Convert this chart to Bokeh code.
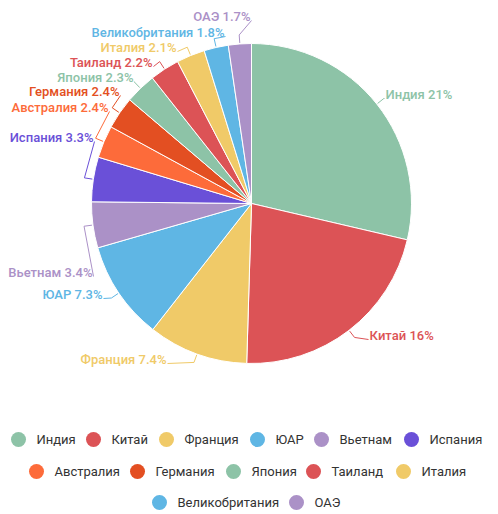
import math
from bokeh.plotting import figure
from bokeh.models import Range1d, ColumnDataSource
from bokeh.core.properties import value
from bokeh.embed import file_html
from bokeh.resources import INLINE

# ---- data ----
countries = ["Индия", "Китай", "Франция", "ЮАР", "Вьетнам", "Испания", "Австралия",
             "Германия", "Япония", "Таиланд", "Италия", "Великобритания", "ОАЭ"]
shares = [21, 16, 7.4, 7.3, 3.4, 3.3, 2.4, 2.4, 2.3, 2.2, 2.1, 1.8, 1.7]
share_labels = ["21%", "16%", "7.4%", "7.3%", "3.4%", "3.3%", "2.4%", "2.4%", "2.3%",
                "2.2%", "2.1%", "1.8%", "1.7%"]
colors = ["#8dc3a7", "#dc5356", "#f0ca68", "#5fb6e4", "#ab91c7", "#6a50d8", "#fd6b3a",
          "#e34f22", "#8dc3a7", "#dc5356", "#f0ca68", "#5fb6e4", "#ab91c7"]

# ---- layout (screen pixels) ----
W, H = 498, 514
CX, CY, R = 251, 203, 160
# label anchor: (x of text end nearest pie, y middle), side
label_pos = [(385, 94, "L"), (369, 335, "L"), (166, 359, "R"), (102, 294, "R"),
             (92, 272, "R"), (93, 137, "R"), (108, 107, "R"), (119, 91, "R"),
             (133, 77, "R"), (152, 62, "R"), (176, 47, "R"), (224, 32, "R"),
             (250, 16, "R")]
legend_pos = [(18, 439), (93, 439), (166, 439), (257, 439), (321, 439), (411, 439),
              (36, 471), (137, 471), (233, 471), (313, 471), (403, 471),
              (159, 502), (296, 502)]


def sy(y):
    return H - y


p = figure(width=W, height=H, output_backend="svg", toolbar_location=None,
           x_range=Range1d(0, W), y_range=Range1d(0, H),
           min_border=0, min_border_left=0, min_border_right=0,
           min_border_top=0, min_border_bottom=0)
p.axis.visible = False
p.grid.visible = False
p.outline_line_color = None
p.background_fill_color = None
p.border_fill_color = None

total = sum(shares)
starts, ends, mids = [], [], []
acc = 0.0
for v in shares:
    a0 = math.pi / 2 - acc / total * 2 * math.pi
    acc += v
    a1 = math.pi / 2 - acc / total * 2 * math.pi
    starts.append(a0)
    ends.append(a1)
    mids.append((a0 + a1) / 2)

src = ColumnDataSource(dict(x=[CX] * len(shares), y=[sy(CY)] * len(shares),
                            start=starts, end=ends, color=colors))
p.wedge(x="x", y="y", radius=R, start_angle="start", end_angle="end",
        direction="clock", fill_color="color", line_color="white", line_width=1,
        source=src)

# leader lines and labels
for i, (name, lab, col, m) in enumerate(zip(countries, share_labels, colors, mids)):
    lx, ly, side = label_pos[i]
    ax = CX + (R + 1) * math.cos(m)
    ay = sy(CY) + (R + 1) * math.sin(m)
    bx = CX + (R + 9) * math.cos(m)
    by = sy(CY) + (R + 9) * math.sin(m)
    ex = lx + (1 if side == "R" else -1)
    ey = sy(ly) - 4
    p.line([ax, bx, ex], [ay, by, ey], line_color=col, line_width=1)
    p.text(x=[lx], y=[sy(ly)], text=[f"{name} {lab}"],
           text_align="right" if side == "R" else "left",
           text_baseline="middle", text_color=col,
           text_font=value("Roboto Medium, Roboto"), text_font_size="13px")

# legend
for i, (name, col) in enumerate(zip(countries, colors)):
    lx, ly = legend_pos[i]
    p.scatter(x=[lx], y=[sy(ly)], size=15, marker="circle", fill_color=col,
              line_color=None)
    p.text(x=[lx + 18], y=[sy(ly)], text=[name], text_align="left",
           text_baseline="middle", text_color="#333333",
           text_font=value("Roboto"), text_font_size="13px")

open("out.html", "w").write(file_html(p, INLINE))
